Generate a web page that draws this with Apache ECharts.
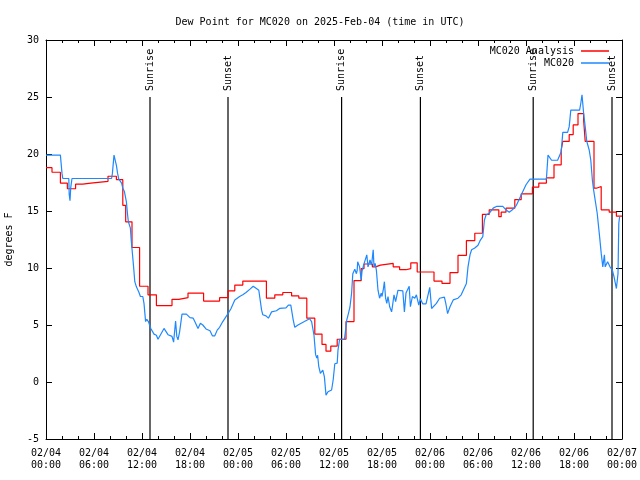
<!DOCTYPE html>
<html>
<head>
<meta charset="utf-8">
<script src="https://cdn.jsdelivr.net/npm/echarts@6/dist/echarts.min.js"></script>
<style>html,body{margin:0;padding:0;background:#fff}#c{width:640px;height:480px}</style>
</head>
<body>
<div id="c"></div>
<script>
// Hours since 2025-02-04 00:00 UTC
const xTickLabels = ['02/04\n00:00','02/04\n06:00','02/04\n12:00','02/04\n18:00','02/05\n00:00','02/05\n06:00','02/05\n12:00','02/05\n18:00','02/06\n00:00','02/06\n06:00','02/06\n12:00','02/06\n18:00','02/07\n00:00'];
const yTicks = [-5, 0, 5, 10, 15, 20, 25, 30];

const analysisTimes = [0,0.75,1.8,2.67,3.7,4.6,5.6,7.75,8.8,9.6,9.96,10.75,11.7,12.75,13.8,15.75,16.6,17.75,19.7,21.7,22.75,23.6,24.6,27.55,28.6,29.6,30.7,31.6,32.6,33.6,34.5,35.0,35.6,36.4,37.5,38.5,39.4,39.75,40.8,41.2,41.8,43.4,44.2,45.0,45.6,46.4,48.5,49.5,50.5,51.5,52.55,53.6,54.55,55.4,56.6,56.9,57.5,58.6,59.4,60.8,61.6,62.55,63.5,64.4,64.6,65.4,65.9,66.5,67.2,67.4,68.5,68.8,69.4,70.4,71.3,72];
const analysisValues = [18.8,18.4,17.45,16.95,17.35,17.45,17.6,18.05,17.75,15.5,14.05,11.8,8.4,7.65,6.7,7.25,7.4,7.8,7.1,7.4,8.0,8.5,8.85,7.35,7.65,7.85,7.55,7.35,5.6,4.2,3.3,2.7,3.15,3.75,5.3,8.9,9.95,10.35,10.1,10.25,10.4,10.1,9.85,9.95,10.45,9.65,8.85,8.65,9.6,11.1,12.4,13.05,14.7,15.1,14.5,14.9,15.25,16.0,16.5,17.1,17.45,17.9,19.05,20.35,21.1,21.7,22.55,23.55,23.0,21.1,17.0,17.15,15.1,14.9,14.55,14.55];

const stationTimes = [0,1.8,2.0,2.1,2.85,2.9,3.0,3.1,3.25,8.2,8.3,8.5,8.6,8.8,8.95,9.1,9.35,9.45,9.6,9.8,10.05,10.2,10.3,10.45,10.55,10.65,10.8,10.95,11.1,11.3,11.6,11.8,12.1,12.25,12.45,12.6,12.8,13.1,13.5,13.8,14.0,14.75,15.25,15.75,15.95,16.2,16.35,16.5,16.7,17.0,17.55,18.0,18.4,18.6,19.0,19.3,19.6,20.0,20.5,20.8,21.1,21.4,21.7,22.1,22.75,23.1,23.6,24.2,24.6,25.0,25.5,25.9,26.3,26.6,26.8,26.95,27.1,27.5,27.8,28.2,28.8,29.2,30.0,30.3,30.6,30.9,31.1,31.5,32.3,32.95,33.2,33.5,33.7,33.85,33.95,34.1,34.3,34.45,34.6,34.8,35.0,35.25,35.7,35.9,36.1,36.4,36.5,36.7,37.3,37.45,37.6,37.8,38.0,38.2,38.35,38.6,38.8,38.9,38.96,39.2,39.4,39.5,39.7,39.9,40.1,40.25,40.5,40.7,40.9,41.0,41.15,41.3,41.5,41.7,41.9,42.0,42.15,42.3,42.45,42.6,42.75,42.96,43.2,43.3,43.5,43.7,43.8,44.0,44.6,44.8,45.0,45.4,45.55,45.8,46.1,46.3,46.6,46.8,47.1,47.5,47.7,47.97,48.2,48.8,49.2,49.8,50.0,50.2,50.5,50.9,51.5,51.9,52.55,52.75,53.0,53.2,53.6,54.0,54.3,54.6,54.8,55.0,55.4,55.9,56.3,57.1,57.5,57.9,58.3,58.8,59.4,60.0,60.5,62.55,62.75,63.0,63.2,63.95,64.4,64.6,65.2,65.4,65.6,66.7,66.85,67.0,67.2,67.4,67.6,67.9,68.1,68.3,68.45,68.7,68.9,69.2,69.4,69.6,69.8,69.9,70.2,70.5,70.8,71.0,71.3,71.5,71.6,71.7];
const stationValues = [19.9,19.9,18.3,17.85,17.85,16.45,15.9,17.1,17.85,17.85,18.3,19.9,19.75,19.0,18.3,17.8,17.8,17.45,17.0,16.7,15.8,14.65,14.05,13.9,13.5,12.45,11.3,10.1,8.8,8.35,7.9,7.5,7.5,6.9,5.3,5.5,5.3,4.7,4.2,4.1,3.75,4.7,4.15,4.0,3.5,5.35,4.0,3.7,4.4,5.95,5.95,5.65,5.6,5.3,4.7,5.15,5.0,4.65,4.5,4.05,4.05,4.55,4.8,5.3,6.0,6.4,7.2,7.5,7.65,7.85,8.15,8.4,8.2,8.05,7.05,6.3,5.9,5.8,5.6,6.15,6.25,6.45,6.5,6.75,6.75,5.45,4.8,5.0,5.3,5.55,5.3,4.1,2.4,2.1,2.35,1.35,0.75,0.6,1.05,0.45,-1.15,-0.85,-0.7,0.2,1.6,1.65,2.8,3.75,3.75,4.55,5.45,6.0,6.6,7.8,9.5,9.9,9.5,9.8,10.55,10.1,8.95,9.7,10.25,10.4,11.15,10.1,10.7,10.25,11.6,10.1,10.4,9.8,8.05,7.35,7.8,7.5,8.05,8.8,7.35,6.9,7.5,6.6,6.15,6.6,7.65,7.05,6.9,8.05,8.0,6.15,7.8,8.4,6.6,7.5,7.35,7.65,6.75,7.3,6.85,6.85,6.9,8.3,6.45,6.9,7.35,7.45,6.8,6.0,6.6,7.2,7.35,7.65,8.65,10.1,11.15,11.6,11.75,12.0,12.45,12.75,14.2,14.65,14.8,15.25,15.4,15.4,15.1,14.9,15.1,15.5,16.4,17.3,17.8,17.8,19.9,19.9,19.45,19.45,20.2,21.9,21.9,22.4,23.85,23.85,24.45,25.2,23.6,22.4,21.1,20.35,19.45,17.7,16.85,16.7,14.8,12.75,11.3,10.1,11.15,10.1,10.55,10.1,9.8,9.25,8.2,9.5,13.9,14.5];

const eventTimes = [13.0, 22.75, 36.95, 46.8, 60.9, 70.75];
const eventNames = ['Sunrise','Sunset','Sunrise','Sunset','Sunrise','Sunset'];
const eventLineBottom = -5, eventLineTop = 25;

const FONT = 'DejaVu Sans Mono';
const zip = (a, b) => a.map((t, i) => [t, b[i]]);

const eventSeries = eventTimes.map((t, i) => ({
  type: 'line', name: eventNames[i] + i, silent: true, z: 1,
  symbol: 'circle', symbolSize: 0.01, showSymbol: true, showAllSymbol: true,
  itemStyle: { color: 'rgba(0,0,0,0)' },
  lineStyle: { color: '#000', width: 1.2 },
  data: [{ value: [t, eventLineBottom], label: { show: false } }, { value: [t, eventLineTop], label: {
    show: true, formatter: eventNames[i], position: 'top', distance: 6, rotate: 90,
    align: 'left', verticalAlign: 'middle', color: '#000', fontFamily: FONT, fontSize: 10 } }]
}));

const axisCommon = {
  axisLine: { show: true, onZero: false, lineStyle: { color: '#000', width: 1 } },
  axisTick: { show: true, inside: true, length: 6, lineStyle: { color: '#000', width: 1 } },
  splitLine: { show: false }
};

const chart = echarts.init(document.getElementById('c'), null, { renderer: 'canvas' });
chart.setOption({
  animation: false,
  backgroundColor: '#fff',
  title: { text: 'Dew Point for MC020 on 2025-Feb-04 (time in UTC)', left: 'center', top: 12,
    textStyle: { fontFamily: FONT, fontSize: 10, fontWeight: 'normal', color: '#000' } },
  legend: [
    { data: ['MC020 Analysis'], right: 31, top: 46, padding: 0, itemWidth: 28, itemHeight: 1.5, icon: 'rect', align: 'right', itemGap: 0,
      textStyle: { fontFamily: FONT, fontSize: 10, color: '#000', padding: [0, 2, 0, 0] } },
    { data: ['MC020'], right: 31, top: 58, padding: 0, itemWidth: 28, itemHeight: 1.5, icon: 'rect', align: 'right', itemGap: 0,
      textStyle: { fontFamily: FONT, fontSize: 10, color: '#000', padding: [0, 2, 0, 0] } }
  ],
  grid: { left: 46, right: 18, top: 40, bottom: 41, show: false, containLabel: false, outerBoundsMode: 'none' },
  xAxis: [
    Object.assign({ type: 'value', min: 0, max: 72, interval: 6, position: 'bottom',
      minorTick: { show: true, splitNumber: 3, length: 3, lineStyle: { color: '#000', width: 1 } },
      minorSplitLine: { show: false },
      axisLabel: { margin: 8, fontFamily: FONT, fontSize: 10, color: '#000', lineHeight: 12,
        formatter: v => xTickLabels[Math.round(v / 6)] } }, axisCommon),
    Object.assign({ type: 'value', min: 0, max: 72, interval: 6, position: 'top',
      minorTick: { show: true, splitNumber: 3, length: 3, lineStyle: { color: '#000', width: 1 } },
      axisLabel: { show: false } }, axisCommon)
  ],
  yAxis: [
    Object.assign({ type: 'value', min: yTicks[0], max: yTicks[yTicks.length - 1], interval: 5, position: 'left',
      name: 'degrees F', nameLocation: 'middle', nameGap: 32, nameRotate: 90,
      nameTextStyle: { fontFamily: FONT, fontSize: 10, color: '#000' },
      axisLabel: { margin: 7, fontFamily: FONT, fontSize: 10, color: '#000' } }, axisCommon),
    Object.assign({ type: 'value', min: yTicks[0], max: yTicks[yTicks.length - 1], interval: 5, position: 'right',
      axisLabel: { show: false } }, axisCommon)
  ],
  series: [
    ...eventSeries,
    { type: 'line', name: 'MC020 Analysis', step: 'end', symbol: 'none', z: 3,
      lineStyle: { color: '#ff0000', width: 1.2 }, itemStyle: { color: '#ff0000' },
      data: zip(analysisTimes, analysisValues) },
    { type: 'line', name: 'MC020', symbol: 'none', z: 4,
      lineStyle: { color: '#1e88ff', width: 1.2 }, itemStyle: { color: '#1e88ff' },
      data: zip(stationTimes, stationValues) }
  ]
});
</script>
</body>
</html>
